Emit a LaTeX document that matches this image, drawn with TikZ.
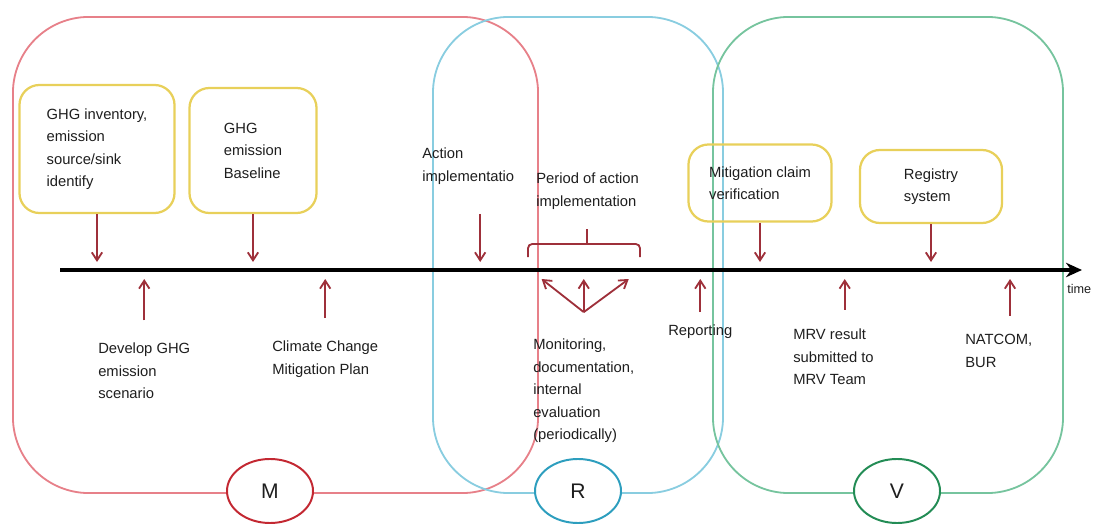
\documentclass[tikz,border=0pt]{standalone}
\usepackage{fontspec}
\setmainfont{Liberation Sans}
\usetikzlibrary{arrows.meta,positioning,shapes.geometric}
\definecolor{mred}{RGB}{231,128,137}
\definecolor{rblue}{RGB}{137,205,224}
\definecolor{vgreen}{RGB}{118,196,158}
\definecolor{boxyellow}{RGB}{232,208,90}
\definecolor{arrred}{RGB}{158,48,58}
\definecolor{mdark}{RGB}{195,40,50}
\definecolor{rdark}{RGB}{45,158,190}
\definecolor{vdark}{RGB}{35,140,85}
\definecolor{ink}{RGB}{30,30,30}

\begin{document}
\begin{tikzpicture}[
      x=0.025cm, y=-0.025cm,
      phase/.style={rectangle, draw, line width=1.3pt, rounded corners=1.9cm, inner sep=0pt},
      stage/.style={ellipse, draw, line width=1.4pt, fill=white, minimum width=2.15cm, minimum height=1.6cm, font=\fontsize{15}{18}\selectfont, text=ink},
      task/.style={rectangle, draw=boxyellow, line width=1.6pt, rounded corners=0.5cm, align=left, text=ink, font=\fontsize{10.5}{16}\selectfont},
      note/.style={anchor=west, inner sep=0pt, align=left, text=ink, font=\fontsize{10.5}{16}\selectfont},
      arr/.style={-{Straight Barb[length=2mm, width=2.6mm]}, draw=arrred, line width=1.3pt},
      brk/.style={draw=arrred, line width=1.3pt, rounded corners=3pt},
      timeline/.style={-{Stealth[length=4mm, width=3.6mm]}, line width=2.2pt},
    ]
    \useasboundingbox (0,0) rectangle (1096,524);
    % the three phases
    \node[phase, draw=mred, minimum width=13.125cm, minimum height=11.9cm] (mbox) at (275.5,255) {};
    \node[phase, draw=rblue, minimum width=7.25cm, minimum height=11.9cm] (rbox) at (578,255) {};
    \node[phase, draw=vgreen, minimum width=8.75cm, minimum height=11.9cm] (vbox) at (888,255) {};
    \node[stage, draw=mdark] (m) at (270,491) {M};
    \node[stage, draw=rdark] (r) at (578,491) {R};
    \node[stage, draw=vdark] (v) at (897,491) {V};

    % time axis
    \coordinate (start) at (60,270);
    \coordinate (end) at (1082,270);
    \coordinate (top) at (0,262);
    \coordinate (bot) at (0,279);
    \draw[timeline] (start) -- (end);
    \node[note, font=\fontsize{9}{10}\selectfont] (time) at (1067,289) {time};

    % steps above the axis
    \node[task, minimum width=3.875cm, minimum height=3.2cm] (inv) at (97,149) {GHG inventory,\\emission\\source/sink\\identify};
    \node[task, minimum width=3.175cm, minimum height=3.125cm] (base) at (253,150.5) {GHG\\emission\\Baseline};
    \node[task, minimum width=3.575cm, minimum height=1.925cm] (claim) at (760,183) {Mitigation claim\\verification};
    \node[task, minimum width=3.55cm, minimum height=1.825cm] (reg) at (931,186.5) {Registry\\system};
    \node[note] (act) at (422,166) {Action\\implementatio};
    \node[note] (per) at (536,191) {Period of action\\implementation};
    \draw[arr] (inv) -- (inv |- top);
    \draw[arr] (base) -- (base |- top);
    \draw[arr] (claim) -- (claim |- top);
    \draw[arr] (reg) -- (reg |- top);
    \draw[arr] ([shift={(8.5pt,-21pt)}]act.south) -- ([xshift=8.5pt]act.south |- top);
    \draw[brk] (528,257) -- (528,244) -- (640,244) -- (640,257);
    \draw[brk] (587,244) -- (587,229);

    % steps below the axis
    \node[note] (dev) at (98,371) {Develop GHG\\emission\\scenario};
    \node[note] (plan) at (272,359) {Climate Change\\Mitigation Plan};
    \node[note] (mon) at (533,391) {Monitoring,\\documentation,\\internal\\evaluation\\(periodically)};
    \node[note] (rep) at (668,332) {Reporting};
    \node[note] (mrv) at (793,357) {MRV result\\submitted to\\MRV Team};
    \node[note] (nat) at (965,351) {NATCOM,\\BUR};
    \draw[arr] ([yshift=16pt]dev.north) -- (dev.north |- bot);
    \draw[arr] ([yshift=16pt]plan.north) -- (plan.north |- bot);
    \coordinate[above=19pt of mon.north] (fan);
    \draw[arr] (fan) -- ([xshift=-30pt]fan |- bot);
    \draw[arr] (fan) -- (fan |- bot);
    \draw[arr] (fan) -- ([xshift=32pt]fan |- bot);
    \draw[arr] ([yshift=9pt]rep.north) -- (rep.north |- bot);
    \draw[arr] ([shift={(8pt,13.5pt)}]mrv.north) -- ([xshift=8pt]mrv.north |- bot);
    \draw[arr] ([shift={(8pt,13pt)}]nat.north) -- ([xshift=8pt]nat.north |- bot);
  \end{tikzpicture}
\end{document}
